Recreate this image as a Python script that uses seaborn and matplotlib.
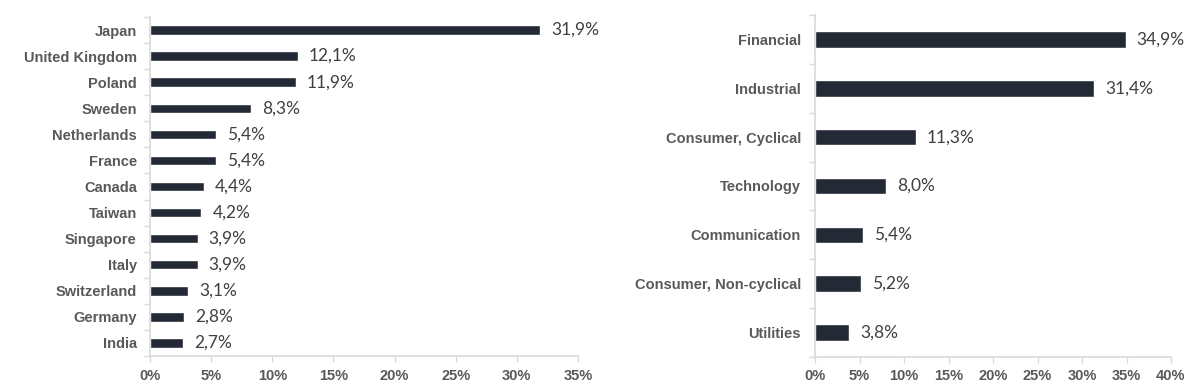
import matplotlib

matplotlib.use("Agg")
import matplotlib.pyplot as plt
import numpy as np
import seaborn as sns
from matplotlib.ticker import FixedLocator, FuncFormatter, MultipleLocator

countries = [
    "Japan", "United Kingdom", "Poland", "Sweden", "Netherlands", "France",
    "Canada", "Taiwan", "Singapore", "Italy", "Switzerland", "Germany", "India",
]
country_pct = [31.9, 12.1, 11.9, 8.3, 5.4, 5.4, 4.4, 4.2, 3.9, 3.9, 3.1, 2.8, 2.7]

sectors = [
    "Financial", "Industrial", "Consumer, Cyclical", "Technology",
    "Communication", "Consumer, Non-cyclical", "Utilities",
]
sector_pct = [34.9, 31.4, 11.3, 8.0, 5.4, 5.2, 3.8]

BAR = "#232a36"
AXIS = "#d9d9d9"
TICK_TXT = "#595959"
VAL_TXT = "#404040"

sns.set_theme(style="white")
plt.rcParams["font.family"] = ["Liberation Sans", "DejaVu Sans"]

fig = plt.figure(figsize=(11.99, 3.88), dpi=100)
ax1 = fig.add_axes([150 / 1199, 1 - 356 / 388, 428 / 1199, 339 / 388])
ax2 = fig.add_axes([815 / 1199, 1 - 357 / 388, 356 / 1199, 342 / 388])


def draw(ax, cats, vals, xmax, pad, width):
    sns.barplot(x=vals, y=cats, orient="h", color=BAR, width=width,
                saturation=1, ax=ax)
    n = len(cats)
    ax.set_xlim(0, xmax)
    ax.set_ylim(n - 0.5, -0.5)
    ax.set_xlabel("")
    ax.set_ylabel("")
    for s in ("top", "right"):
        ax.spines[s].set_visible(False)
    for s in ("left", "bottom"):
        ax.spines[s].set_color(AXIS)
        ax.spines[s].set_linewidth(1.2)
    ax.xaxis.set_major_locator(MultipleLocator(5))
    ax.xaxis.set_major_formatter(FuncFormatter(lambda v, _: f"{v:.0f}%"))
    ax.tick_params(axis="x", length=4, width=1, color=AXIS, direction="out",
                   bottom=True, labelsize=10.5, labelcolor=TICK_TXT, pad=5)
    ax.tick_params(axis="y", which="major", length=0, labelsize=10.5,
                   labelcolor=TICK_TXT, pad=pad)
    ax.yaxis.set_minor_locator(FixedLocator(np.arange(n + 1) - 0.5))
    ax.tick_params(axis="y", which="minor", length=4, width=1, color=AXIS,
                   direction="out", left=True)
    for lbl in ax.get_xticklabels() + ax.get_yticklabels():
        lbl.set_fontweight("bold")
    ax.bar_label(ax.containers[0],
                 labels=[f"{v:.1f}".replace(".", ",") + "%" for v in vals],
                 padding=8, fontsize=12.5, color=VAL_TXT,
                 family=["Lato", "DejaVu Sans"])


draw(ax1, countries, country_pct, 35, 9.5, 0.36)
draw(ax2, sectors, sector_pct, 40, 10, 0.34)

fig.savefig("out.png", dpi=100)
